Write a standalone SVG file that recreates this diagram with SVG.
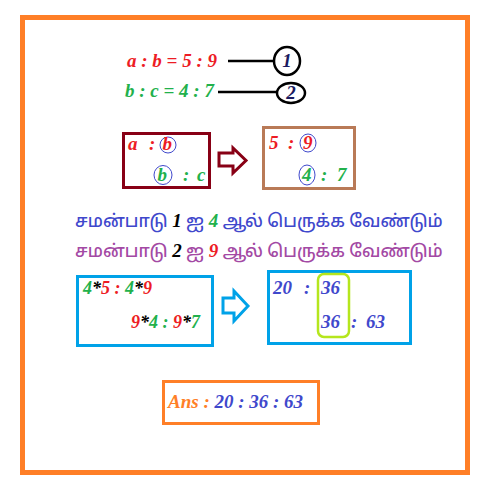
<svg xmlns="http://www.w3.org/2000/svg" width="488" height="492" viewBox="0 0 488 492">
<style>
text{font-family:"Liberation Serif","Times New Roman",serif;font-weight:bold;font-style:italic;font-size:19px}
.ta{font-family:"Noto Sans Tamil","Lohit Tamil","Latha","Noto Sans",sans-serif;font-style:normal;font-weight:500;font-size:17.2px}
.num{font-family:"Liberation Serif",serif;font-weight:bold;font-style:italic;font-size:19px}
.r{fill:#ED1C24}.g{fill:#22B14C}.k{fill:#000}.b{fill:#3F48CC}.p{fill:#A349A4}.o{fill:#FF7F27}
.circ{fill:none;stroke:#3F48CC;stroke-width:1}
.s18{font-size:18px}
</style>
<rect width="488" height="492" fill="#fff"/>
<rect x="22.5" y="17.5" width="445" height="455" fill="none" stroke="#FF7F27" stroke-width="5"/>
<g id="connectors">
<line x1="228" y1="61" x2="274" y2="61" stroke="#000" stroke-width="2.5"/>
<line x1="218" y1="92" x2="277" y2="92" stroke="#000" stroke-width="2.5"/>
<path d="M219,153 H233 V148 L246,160.5 L233,173 V166 H219 Z" fill="none" stroke="#880015" stroke-width="3"/>
<path d="M223,298 H234 V291 L248,306 L234,321 V313 H223 Z" fill="none" stroke="#00A2E8" stroke-width="3"/>
</g>
<g id="eq1">
<text x="127" y="67" class="r">a : b = 5 : 9</text>
</g>
<g id="eq2">
<text x="125" y="97" class="g">b : c = 4 : 7</text>
</g>
<g id="n1">
<ellipse cx="287" cy="61" rx="13" ry="14" fill="#fff" stroke="#000" stroke-width="2.5"/>
<text x="287" y="67" text-anchor="middle" style="fill:#1a1a60">1</text>
</g>
<g id="n2">
<ellipse cx="291" cy="93" rx="14" ry="10" fill="#fff" stroke="#000" stroke-width="2.5"/>
<text x="291" y="99" text-anchor="middle" style="fill:#1a1a60">2</text>
</g>
<g id="box1">
<rect x="123.5" y="133.5" width="86" height="54" fill="#fff" stroke="#880015" stroke-width="3"/>
<text x="128" y="150" class="r">a</text>
<text x="149" y="150" class="r">:</text>
<circle cx="168" cy="145" r="8" class="circ"/>
<text x="162.5" y="150" class="r">b</text>
<ellipse cx="163" cy="175" rx="9" ry="9.5" class="circ"/>
<text x="157.5" y="181" class="g">b</text>
<text x="183" y="181" class="g">:</text>
<text x="197" y="181" class="g">c</text>
</g>
<g id="box2">
<rect x="263.5" y="127.5" width="91" height="61" fill="#fff" stroke="#B97A57" stroke-width="3"/>
<text x="269" y="149" class="r">5</text>
<text x="288" y="149" class="r">:</text>
<ellipse cx="308" cy="143" rx="8" ry="9" class="circ"/>
<text x="303" y="149" class="r">9</text>
<ellipse cx="307" cy="175" rx="8" ry="10" class="circ"/>
<text x="302" y="181" class="g">4</text>
<text x="321" y="181" class="g">:</text>
<text x="337" y="181" class="g">7</text>
</g>
<g id="instr1">
<text x="75" y="227" class="ta b">சமன்பாடு <tspan class="k num">1</tspan> ஐ <tspan class="g num">4</tspan> ஆல் பெருக்க வேண்டும்</text>
</g>
<g id="instr2">
<text x="75" y="257" class="ta p">சமன்பாடு <tspan class="k num">2</tspan> ஐ <tspan class="r num">9</tspan> ஆல் பெருக்க வேண்டும்</text>
</g>
<g id="box3">
<rect x="77.5" y="276.5" width="135" height="69" fill="#fff" stroke="#00A2E8" stroke-width="3"/>
<text x="83" y="294" class="s18"><tspan class="g">4</tspan><tspan class="k">*</tspan><tspan class="r">5 : </tspan><tspan class="g">4</tspan><tspan class="k">*</tspan><tspan class="r">9</tspan></text>
<text x="131" y="328" class="s18"><tspan class="r">9</tspan><tspan class="k">*</tspan><tspan class="g">4 : </tspan><tspan class="r">9</tspan><tspan class="k">*</tspan><tspan class="g">7</tspan></text>
</g>
<g id="box4">
<rect x="268.5" y="271.5" width="142" height="72" fill="#fff" stroke="#00A2E8" stroke-width="3"/>
<rect x="318" y="274" width="31" height="63" rx="6" fill="none" stroke="#B5E61D" stroke-width="2.5"/>
<text x="273" y="294" class="b">20</text>
<text x="304" y="294" class="b">:</text>
<text x="321" y="294" class="b">36</text>
<text x="321" y="328" class="b">36</text>
<text x="351" y="328" class="b">:</text>
<text x="366" y="328" class="b">63</text>
</g>
<g id="ans">
<rect x="163.5" y="381.5" width="155" height="42" fill="#fff" stroke="#FF7F27" stroke-width="3"/>
<text x="168" y="408"><tspan class="o">Ans : </tspan><tspan class="b">20 : 36 : 63</tspan></text>
</g>
</svg>
